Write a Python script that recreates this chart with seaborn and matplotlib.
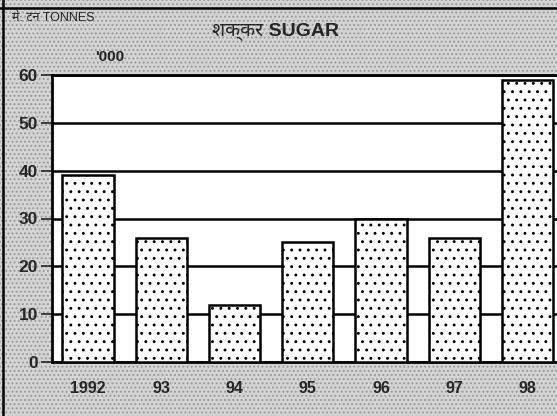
import matplotlib
matplotlib.use("Agg")
import matplotlib.pyplot as plt
from matplotlib.lines import Line2D
import seaborn as sns
import pandas as pd

# Sugar output, thousand tonnes
years = ["1992", "93", "94", "95", "96", "97", "98"]
sugar = [39, 26, 12, 25, 30, 26, 59]
yticks = [0, 10, 20, 30, 40, 50, 60]

df = pd.DataFrame({"year": years, "sugar": sugar})

sns.set_style("white")
plt.rcParams["hatch.linewidth"] = 0.9
plt.rcParams["font.family"] = ["Liberation Sans", "DejaVu Sans"]

fig = plt.figure(figsize=(5.57, 4.16), dpi=100)
fig.patch.set_facecolor("#d4d4d4")
fig.patch.set_edgecolor("#9a9a9a")
fig.patch.set_hatch("....")

ax = fig.add_axes([52 / 557, 54 / 416, 1 - 52 / 557, 287 / 416])
ax.set_facecolor("white")

sns.barplot(data=df, x="year", y="sugar", color="white", edgecolor="black",
            linewidth=1.8, width=0.70, saturation=1, ax=ax, zorder=3)
for bar in ax.patches:
    bar.set_hatch("..")
    bar.set_facecolor("white")
    bar.set_edgecolor("black")

ax.set_xlim(-0.49, 6.40)
ax.set_ylim(0, 60)
ax.set_yticks(yticks)
ax.set_yticklabels([str(v) for v in yticks], fontsize=12.5, fontweight="bold")
ax.set_xticklabels(years, fontsize=11.5, fontweight="bold")
ax.set_xlabel("")
ax.set_ylabel("")

ax.yaxis.grid(True, color="black", linewidth=1.8)
ax.set_axisbelow(True)
ax.tick_params(axis="y", direction="out", length=8, width=1.2, pad=2, left=True)
ax.tick_params(axis="x", length=0, pad=14)

for side in ["left", "bottom", "top"]:
    ax.spines[side].set_visible(True)
    ax.spines[side].set_color("black")
    ax.spines[side].set_linewidth(2)
ax.spines["right"].set_visible(False)

# page frame lines
fig.add_artist(Line2D([0, 1], [1 - 8 / 416, 1 - 8 / 416], color="black", lw=1.8))
fig.add_artist(Line2D([3 / 557, 3 / 557], [0, 1], color="black", lw=1.8))

mixed = ["Liberation Sans", "Noto Sans Devanagari", "DejaVu Sans"]
fig.text(275 / 557, 1 - 31 / 416, "शक्कर SUGAR", ha="center", va="center",
         fontsize=14, fontweight="bold", family=mixed)
fig.text(12 / 557, 1 - 18 / 416, "मे. टन TONNES", ha="left", va="center",
         fontsize=9, family=mixed)
fig.text(95 / 557, 1 - 57 / 416, "'000", ha="left", va="center",
         fontsize=11, fontweight="bold")

fig.savefig("out.png", dpi=100, facecolor=fig.get_facecolor())
